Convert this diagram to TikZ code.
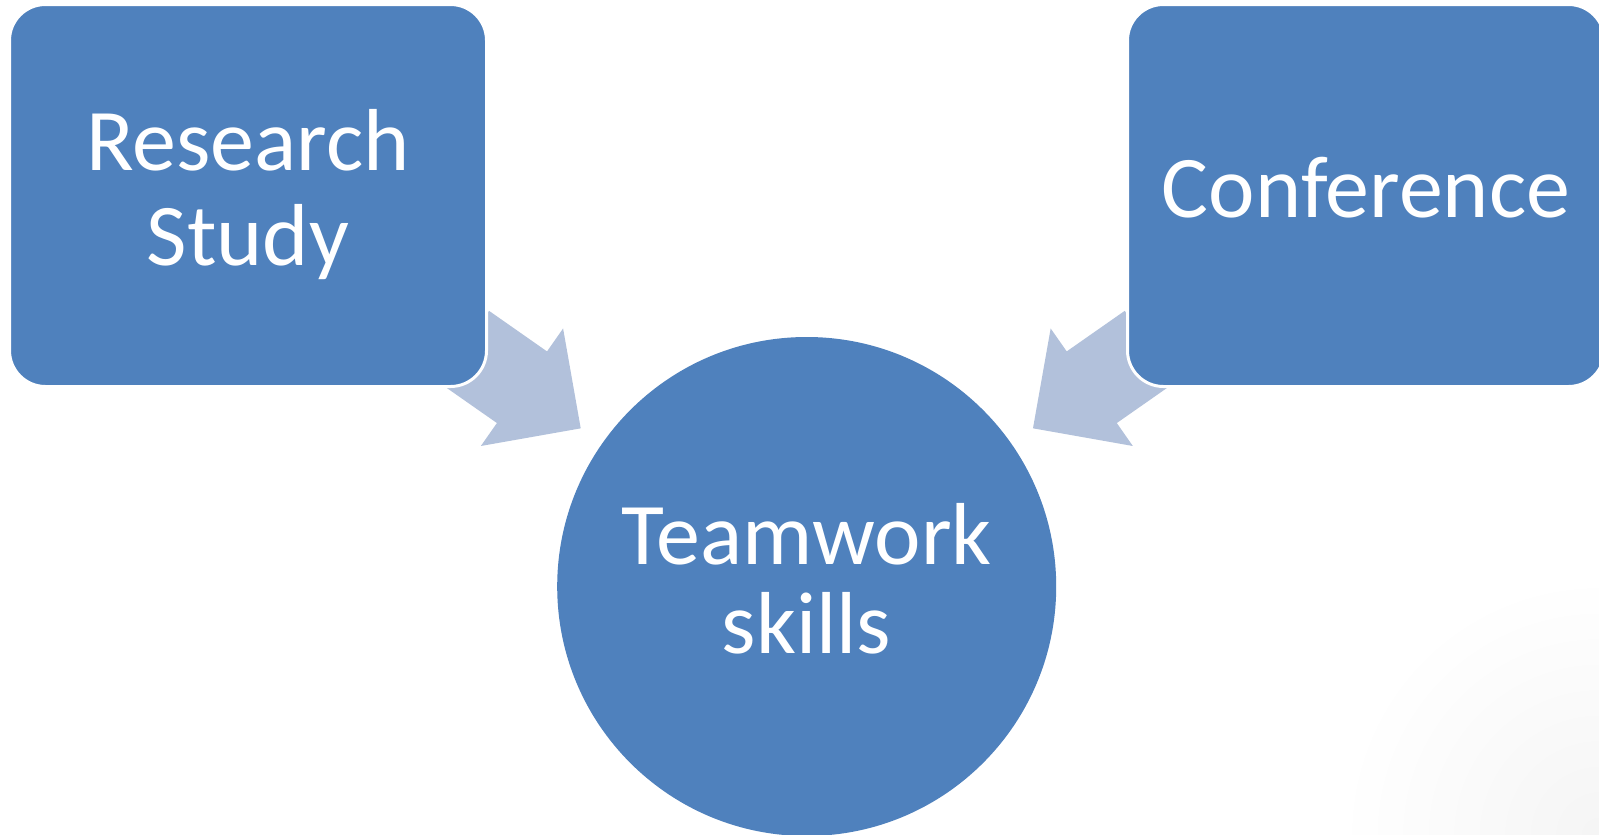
\documentclass[tikz,border=0pt]{standalone}
\usepackage{fontspec}
\setmainfont{Carlito}
\usetikzlibrary{shapes.arrows}
\usetikzlibrary{backgrounds}
\definecolor{boxblue}{RGB}{79,129,189}
\definecolor{arrowblue}{RGB}{178,193,219}
\newcommand{\linestrut}{\rule[-0.25em]{0pt}{1em}}

\begin{document}
\begin{tikzpicture}[x=1pt,y=-1pt,
    block/.style={rectangle,rounded corners=36pt,fill=boxblue,draw=white,line width=3pt,
        minimum width=477pt,minimum height=382pt,text=white,align=center,
        font=\fontsize{88}{95}\selectfont},
    hub/.style={circle,fill=boxblue,minimum size=499pt,inner sep=0pt,text=white,
        align=center,font=\fontsize{88}{86}\selectfont},
    bigarrow/.style={single arrow,fill=arrowblue,draw=none,minimum height=142.5pt,
        inner xsep=0pt,inner ysep=43.5pt,single arrow head extend=28pt,
        single arrow tip angle=90,sloped,allow upside down,pos=0.459}]
    \useasboundingbox (0,0) rectangle (1599,835);
    \clip (0,0) rectangle (1599,835);
    % boxes and circle
    \node[block] (research) at (248,195.5) {\linestrut Research\\Study\linestrut};
    \node[block] (conference) at (1366,195.5) {\linestrut Conference\linestrut};
    \node[hub] (team) at (806.7,586.5) {\linestrut Teamwork\\skills\linestrut};
    % arrows behind the boxes
    \begin{scope}[on background layer]
        \fill[white] (0,0) rectangle (1599,835);
        \shade[inner color=black!4,outer color=white] (1599,835) circle (260);
        \path (research.center) -- (team.center) node[bigarrow] (arrowR) {};
        \path (conference.center) -- (team.center) node[bigarrow] (arrowC) {};
    \end{scope}
\end{tikzpicture}
\end{document}
